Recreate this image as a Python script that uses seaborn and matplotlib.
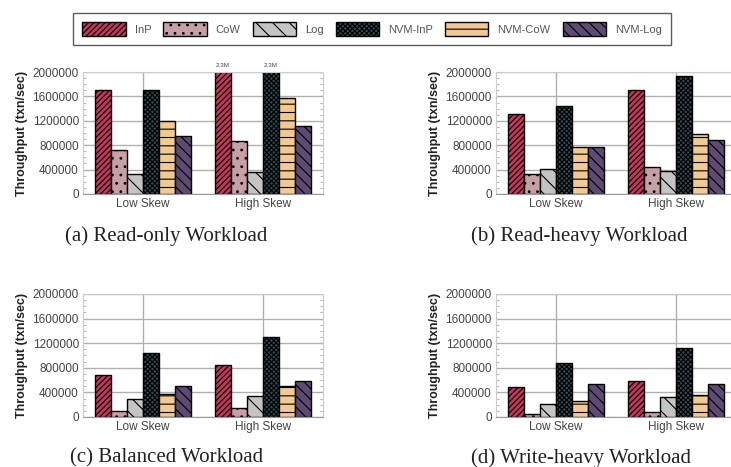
import pandas as pd
import numpy as np
import matplotlib
matplotlib.use('Agg')
import matplotlib.pyplot as plt
import matplotlib.patches as mpatches
from matplotlib.ticker import MultipleLocator, FuncFormatter
import seaborn as sns

# schemes and workloads
schemes = ['InP', 'CoW', 'Log', 'NVM-InP', 'NVM-CoW', 'NVM-Log']
skews = ['Low Skew', 'High Skew']

# throughput values (txn/sec)
read_only_low = [1710000, 725000, 335000, 1710000, 1200000, 945000]
read_only_high = [2300000, 870000, 360000, 2300000, 1575000, 1115000]
read_heavy_low = [1305000, 330000, 410000, 1445000, 775000, 775000]
read_heavy_high = [1710000, 440000, 370000, 1935000, 990000, 890000]
balanced_low = [680000, 95000, 290000, 1040000, 380000, 505000]
balanced_high = [845000, 140000, 335000, 1305000, 505000, 585000]
write_heavy_low = [495000, 50000, 215000, 875000, 265000, 540000]
write_heavy_high = [585000, 85000, 325000, 1120000, 360000, 540000]

titles = ['(a) Read-only Workload', '(b) Read-heavy Workload',
          '(c) Balanced Workload', '(d) Write-heavy Workload']

colors = ['#c0385a', '#c7a0a7', '#c4c4c4', '#2f4a52', '#f2c893', '#5d4b73']
hatches = ['//////', '..', '\\\\', 'xxxxxxx', '--', '\\\\\\']

sns.set_style('white')
plt.rcParams['font.family'] = ['Liberation Sans', 'DejaVu Sans']
plt.rcParams['hatch.linewidth'] = 0.8


def make_df(low, high):
    rows = []
    for s, v in zip(schemes, low):
        rows.append({'skew': 'Low Skew', 'scheme': s, 'tput': v})
    for s, v in zip(schemes, high):
        rows.append({'skew': 'High Skew', 'scheme': s, 'tput': v})
    return pd.DataFrame(rows)


panels = [make_df(read_only_low, read_only_high),
          make_df(read_heavy_low, read_heavy_high),
          make_df(balanced_low, balanced_high),
          make_df(write_heavy_low, write_heavy_high)]

fig = plt.figure(figsize=(7.31, 4.67), dpi=100)
positions = [[0.1135, 0.5846, 0.3283, 0.2612],
             [0.6785, 0.5846, 0.3283, 0.2612],
             [0.1135, 0.1071, 0.3283, 0.2634],
             [0.6785, 0.1071, 0.3283, 0.2634]]
title_pos = [(0.227, 0.474), (0.792, 0.474), (0.228, -0.002), (0.795, -0.002)]

ymax = 2000000
for df, pos, title, tp in zip(panels, positions, titles, title_pos):
    ax = fig.add_axes(pos)
    sns.barplot(data=df, x='skew', y='tput', hue='scheme', order=skews,
                hue_order=schemes, palette=colors, saturation=1,
                edgecolor='black', linewidth=1, width=0.8, legend=False, ax=ax)
    for container, h in zip(ax.containers, hatches):
        for bar in container:
            bar.set_hatch(h)
            if bar.get_height() > ymax:
                ax.text(bar.get_x() + bar.get_width() / 2, ymax + 60000,
                        '%.1fM' % (bar.get_height() / 1e6), ha='center',
                        va='bottom', fontsize=4.5, color='#444')
    ax.set_ylim(0, ymax)
    ax.set_xlim(-0.5, 1.5)
    ax.yaxis.set_major_locator(MultipleLocator(400000))
    ax.yaxis.set_minor_locator(MultipleLocator(100000))
    ax.yaxis.set_major_formatter(FuncFormatter(lambda v, p: '%d' % v))
    ax.grid(True, which='major', color='#b0b0b0', linewidth=1)
    ax.set_axisbelow(True)
    for side in ['left', 'right', 'top']:
        ax.spines[side].set_color('#cccccc')
        ax.spines[side].set_linewidth(0.8)
    ax.spines['bottom'].set_color('#999999')
    ax.tick_params(axis='y', which='minor', left=True, right=True,
                   length=2, width=0.6, color='#aaaaaa', direction='in')
    ax.tick_params(axis='both', which='major', labelsize=8.5,
                   labelcolor='#444444', length=0, pad=3)
    ax.set_xlabel('')
    ax.set_ylabel('Throughput (txn/sec)', fontsize=9, fontweight='bold',
                  color='#222222', labelpad=3)
    fig.text(tp[0], tp[1], title, ha='center', va='bottom', fontsize=15,
             family=['Liberation Serif', 'DejaVu Serif'], color='#222222')

handles = [mpatches.Patch(facecolor=c, edgecolor='black', hatch=h, linewidth=1)
           for c, h in zip(colors, hatches)]
leg = fig.legend(handles, schemes, ncol=6, loc='center',
                 bbox_to_anchor=(0.509, 0.938), fontsize=8, handlelength=3.9,
                 handleheight=1.6, columnspacing=1.1, handletextpad=0.8,
                 frameon=True, fancybox=False, edgecolor='#333333',
                 borderpad=0.8)
for t in leg.get_texts():
    t.set_color('#555555')

fig.savefig('out.png', dpi=100)
